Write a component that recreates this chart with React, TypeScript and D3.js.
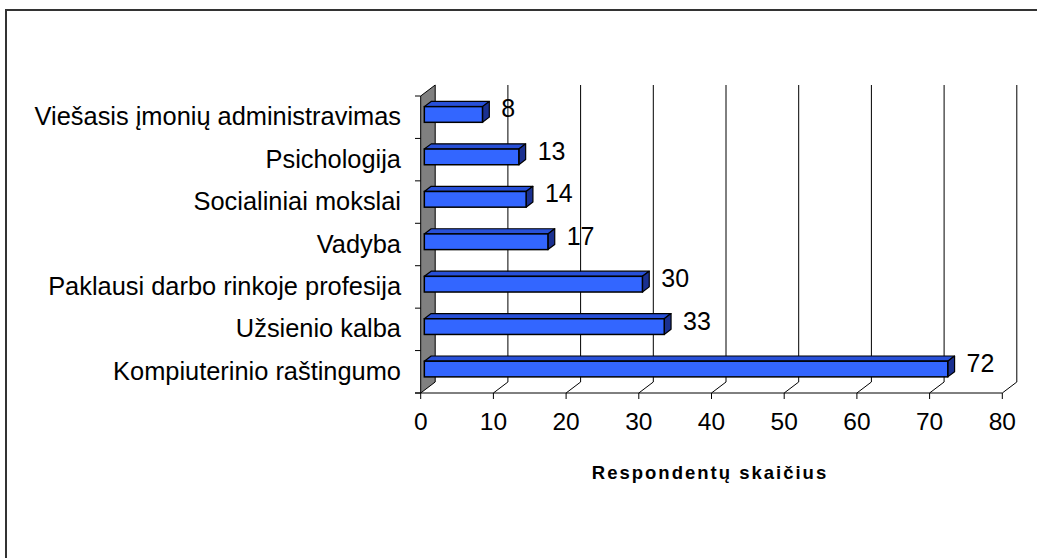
import React from "react";
import * as d3 from "d3";

const categories = [
  "Viešasis įmonių administravimas",
  "Psichologija",
  "Socialiniai mokslai",
  "Vadyba",
  "Paklausi darbo rinkoje profesija",
  "Užsienio kalba",
  "Kompiuterinio raštingumo",
];
const values = [8, 13, 14, 17, 30, 33, 72];
const xTicks = [0, 10, 20, 30, 40, 50, 60, 70, 80];
const axisTitle = "Respondentų skaičius";

const W = 1037;
const H = 558;
const FONT = "'Liberation Sans', Arial, sans-serif";

export default function App() {
  const x = d3.scaleLinear().domain([0, 80]).range([420.7, 1002.3]);
  const y = d3.scaleBand<string>().domain(categories).range([96, 393]).padding(0);
  const DX = 14.5;
  const DY = -11;
  const f1 = 0.25;
  const f2 = 0.72;
  const bw = y.bandwidth() * 0.37;
  const x0 = x(0);
  const yTop = 96;
  const yBot = 393;

  const wall = [
    [x0, yBot],
    [x0, yTop],
    [x0 + DX, yTop + DY],
    [x0 + DX, yBot + DY],
  ];
  const line = d3.line();

  return (
    <svg
      width={W}
      height={H}
      style={{ position: "absolute", left: 0, top: 0, background: "#fff" }}
      fontFamily={FONT}
    >
      <rect x={0} y={0} width={W} height={H} fill="#fff" />
      <path d={`M6,${H + 5} L6,10 L${W + 5},10`} fill="none" stroke="#333" strokeWidth={2} />

      <path d={line(wall as [number, number][]) + "Z"} fill="#808080" stroke="#000" strokeWidth={1} />

      {xTicks.slice(1).map((t) => (
        <g key={t}>
          <line x1={x(t)} y1={yBot} x2={x(t) + DX} y2={yBot + DY} stroke="#000" strokeWidth={1} />
          <line x1={x(t) + DX} y1={yBot + DY} x2={x(t) + DX} y2={yTop + DY} stroke="#000" strokeWidth={1} />
        </g>
      ))}

      <line x1={415} y1={yBot} x2={x(80)} y2={yBot} stroke="#000" strokeWidth={1} />
      {xTicks.map((t) => (
        <g key={"t" + t}>
          <line x1={x(t)} y1={yBot} x2={x(t)} y2={yBot + 6} stroke="#000" strokeWidth={1} />
          <text x={x(t)} y={430} textAnchor="middle" fontSize={24.5} fill="#000">
            {t}
          </text>
        </g>
      ))}

      {categories.map((c) => (
        <line key={"ct" + c} x1={415} y1={y(c)!} x2={x0} y2={y(c)!} stroke="#000" strokeWidth={1} />
      ))}
      <line x1={415} y1={yBot} x2={x0} y2={yBot} stroke="#000" strokeWidth={1} />

      {categories.map((c) => (
        <text
          key={"cl" + c}
          x={401}
          y={y(c)! + y.bandwidth() / 2 + 8}
          textAnchor="end"
          fontSize={25.4}
          fill="#000"
        >
          {c}
        </text>
      ))}

      {categories.map((c, i) => {
        const v = values[i];
        const cy = y(c)! + y.bandwidth() / 2;
        const fx = x0 + DX * f1;
        const fy = cy + DY * f1 - bw / 2;
        const w = x(v) - x0;
        const ddx = DX * (f2 - f1);
        const ddy = DY * (f2 - f1);
        const top: [number, number][] = [
          [fx, fy],
          [fx + ddx, fy + ddy],
          [fx + w + ddx, fy + ddy],
          [fx + w, fy],
        ];
        const right: [number, number][] = [
          [fx + w, fy],
          [fx + w + ddx, fy + ddy],
          [fx + w + ddx, fy + ddy + bw],
          [fx + w, fy + bw],
        ];
        return (
          <g key={"b" + c}>
            <path d={line(top) + "Z"} fill="#2850d8" stroke="#000" strokeWidth={1.2} strokeLinejoin="round" />
            <path d={line(right) + "Z"} fill="#1a3090" stroke="#000" strokeWidth={1.2} strokeLinejoin="round" />
            <rect x={fx} y={fy} width={w} height={bw} fill="#3366ff" stroke="#000" strokeWidth={1.5} />
            <text x={fx + w + ddx + 12} y={fy + bw / 2 + 3} fontSize={25} fill="#000">
              {v}
            </text>
          </g>
        );
      })}

      <text x={710} y={479} textAnchor="middle" fontSize={18.5} fontWeight="bold" letterSpacing={2} fill="#000">
        {axisTitle}
      </text>
    </svg>
  );
}
